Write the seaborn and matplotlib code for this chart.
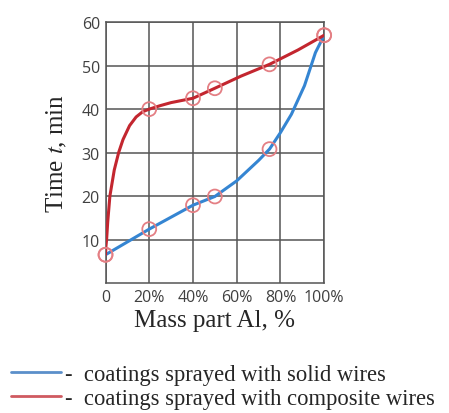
import matplotlib
matplotlib.use("Agg")
import matplotlib.pyplot as plt
from matplotlib.lines import Line2D
import seaborn as sns
import pandas as pd

# measured points (markers)
solid_x = [0, 20, 40, 50, 75, 100]
solid_y = [6.5, 12.4, 17.9, 19.9, 30.8, 57.0]
comp_x = [0, 20, 40, 50, 75, 100]
comp_y = [6.5, 40.0, 42.5, 44.8, 50.3, 57.0]

# fitted curves
solid_curve_x = [0, 20, 40, 50, 60, 70, 75, 80, 85, 91, 96, 100]
solid_curve_y = [6.5, 12.4, 17.9, 19.9, 23.5, 28.2, 30.8, 34.6, 38.8, 45.4, 53.0, 57.0]
comp_curve_x = [0, 0.2, 0.5, 1, 2, 4, 6, 8, 11, 14, 17, 20, 25, 30, 40, 50, 62, 75, 88, 100]
comp_curve_y = [6.5, 8.5, 10.0, 14.0, 20.0, 26.0, 30.0, 33.0, 36.2, 38.2, 39.4, 40.0, 40.8, 41.5, 42.5, 44.8, 47.6, 50.3, 53.6, 57.0]

xticks = [0, 20, 40, 60, 80, 100]
xtick_labels = ["0", "20%", "40%", "60%", "80%", "100%"]
yticks = [10, 20, 30, 40, 50, 60]

blue = "#3585d2"
red = "#c3262f"
marker_col = "#e47f84"

sns.set_style("white")
plt.rcParams["mathtext.fontset"] = "stix"

fig = plt.figure(figsize=(4.49, 4.14), dpi=100)
ax = fig.add_axes([0.235, 0.314, 0.487, 0.630])

solid = pd.DataFrame({"x": solid_curve_x, "y": solid_curve_y})
comp = pd.DataFrame({"x": comp_curve_x, "y": comp_curve_y})
sns.lineplot(data=solid, x="x", y="y", ax=ax, color=blue, linewidth=2.2, sort=False, zorder=3)
sns.lineplot(data=comp, x="x", y="y", ax=ax, color=red, linewidth=2.2, sort=False, zorder=3)

pts = pd.DataFrame({"x": solid_x + comp_x, "y": solid_y + comp_y})
sns.scatterplot(data=pts, x="x", y="y", ax=ax, s=100, marker="o", facecolors="none",
                edgecolor=marker_col, linewidth=1.3, zorder=4, clip_on=False)

ax.set_xlim(0, 100)
ax.set_ylim(0, 60)
ax.set_xticks(xticks)
ax.set_xticklabels(xtick_labels)
ax.set_yticks(yticks)
ax.grid(True, color="#555555", linewidth=1.1)
ax.set_axisbelow(True)
for s in ax.spines.values():
    s.set_color("#555555")
    s.set_linewidth(1.1)
ax.tick_params(length=0, pad=4, labelcolor="#404040")
for lab in ax.get_xticklabels() + ax.get_yticklabels():
    lab.set_family("Open Sans")
    lab.set_fontsize(11.5)

ax.set_xlabel("Mass part Al, %", family="Liberation Serif", fontsize=18, labelpad=3)
ax.set_ylabel("Time $t$, min", family="Liberation Serif", fontsize=18, labelpad=9)

handles = [Line2D([], [], color="#5b8fca", linewidth=2),
           Line2D([], [], color="#cf5a60", linewidth=2)]
labels = ["-  coatings sprayed with solid wires",
          "-  coatings sprayed with composite wires"]
fig.legend(handles, labels, loc="lower left", bbox_to_anchor=(-0.02, -0.04),
           frameon=False, prop={"family": "Liberation Serif", "size": 16.3},
           handlelength=2.2, handletextpad=0.15, labelspacing=0.15)

fig.savefig("out.png", dpi=100)
